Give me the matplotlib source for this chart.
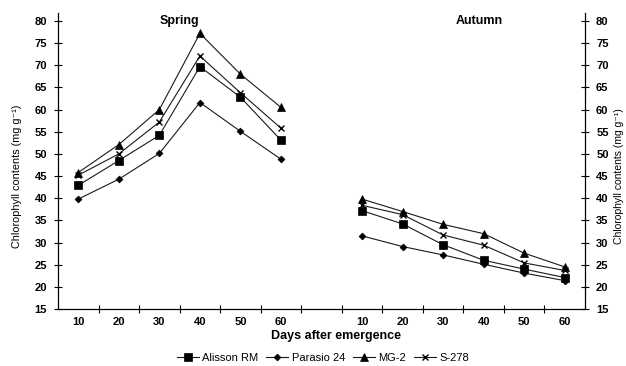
import matplotlib
matplotlib.use("Agg")
import matplotlib.pyplot as plt
import numpy as np

plt.rcParams['font.family'] = ['Liberation Sans', 'DejaVu Sans']

days = [10, 20, 30, 40, 50, 60]
varieties = ["Alisson RM", "Parasio 24", "MG-2", "S-278"]

spring_alisson = [42.9, 48.5, 54.2, 69.7, 62.8, 53.1]
spring_parasio = [39.8, 44.3, 50.1, 61.6, 55.1, 48.8]
spring_mg2 = [45.8, 52.1, 60.0, 77.2, 68.0, 60.5]
spring_s278 = [45.2, 50.0, 57.2, 72.1, 63.8, 55.8]

autumn_alisson = [37.2, 34.2, 29.5, 26.0, 24.0, 22.1]
autumn_parasio = [31.5, 29.1, 27.2, 25.1, 23.1, 21.4]
autumn_mg2 = [39.8, 37.0, 34.1, 32.0, 27.6, 24.5]
autumn_s278 = [38.4, 36.3, 31.7, 29.4, 25.4, 23.7]

season_labels = ["Spring", "Autumn"]
y_ticks = list(range(15, 85, 5))

spring = [spring_alisson, spring_parasio, spring_mg2, spring_s278]
autumn = [autumn_alisson, autumn_parasio, autumn_mg2, autumn_s278]
markers = ['s', 'D', '^', 'x']
msizes = [6, 3.5, 6, 5]

fig = plt.figure(figsize=(6.26, 3.66), dpi=100)
ax = fig.add_axes([58/626, 1-309/366, (585-58)/626, (309-13)/366])

n = len(days)
xs_spring = np.arange(n)
xs_autumn = np.arange(n) + n + 1

lc = '#1a1a1a'
handles = []
for i, name in enumerate(varieties):
    h, = ax.plot(xs_spring, spring[i], color=lc, lw=0.8, marker=markers[i],
                 ms=msizes[i], mfc='black', mec='black', mew=1.0 if markers[i] == 'x' else 0.5,
                 label=name)
    ax.plot(xs_autumn, autumn[i], color=lc, lw=0.8, marker=markers[i],
            ms=msizes[i], mfc='black', mec='black', mew=1.0 if markers[i] == 'x' else 0.5)
    handles.append(h)

ax.set_xlim(-0.5, 2*n + 0.5)
ax.set_ylim(15, 81.8)

ax.set_xticks(np.arange(0, 2*n) + 0.5)
ax.set_xticklabels([])
ax.set_xticks(list(xs_spring) + list(xs_autumn), minor=True)
ax.set_xticklabels([str(d) for d in days] * 2, minor=True, fontweight='bold', fontsize=8)
ax.tick_params(axis='x', which='major', direction='inout', length=6, width=0.8)
ax.tick_params(axis='x', which='minor', length=0, pad=6)

ax.set_yticks(y_ticks)
ax.set_yticklabels([str(t) for t in y_ticks], fontweight='bold', fontsize=8)
ax.tick_params(axis='y', which='major', direction='inout', length=6, width=0.8,
               left=True, right=True, labelleft=True, labelright=True, pad=5)

ax.spines['top'].set_visible(False)
for s in ['left', 'right', 'bottom']:
    ax.spines[s].set_linewidth(0.9)

ax.text(2.5, 80, season_labels[0], ha='center', va='center', fontweight='bold', fontsize=9)
ax.text(9.9, 80, season_labels[1], ha='center', va='center', fontweight='bold', fontsize=9)

fig.text(336/626, 1-336/366, "Days after emergence", ha='center', va='center',
         fontweight='bold', fontsize=9)

ylab = "Chlorophyll contents (mg g\u207b\u00b9)"
fig.text(17/626, 1-176/366, ylab, rotation=90, ha='center', va='center', fontsize=7.8)
fig.text(618.5/626, 1-176/366, ylab, rotation=90, ha='center', va='center', fontsize=7.5)

fig.legend(handles=handles, loc='center', bbox_to_anchor=(323/626, 1-358/366),
           ncol=4, frameon=False, fontsize=8, handlelength=2.0, handletextpad=0.3,
           columnspacing=0.7, borderpad=0)

fig.savefig("out.png", dpi=100)
